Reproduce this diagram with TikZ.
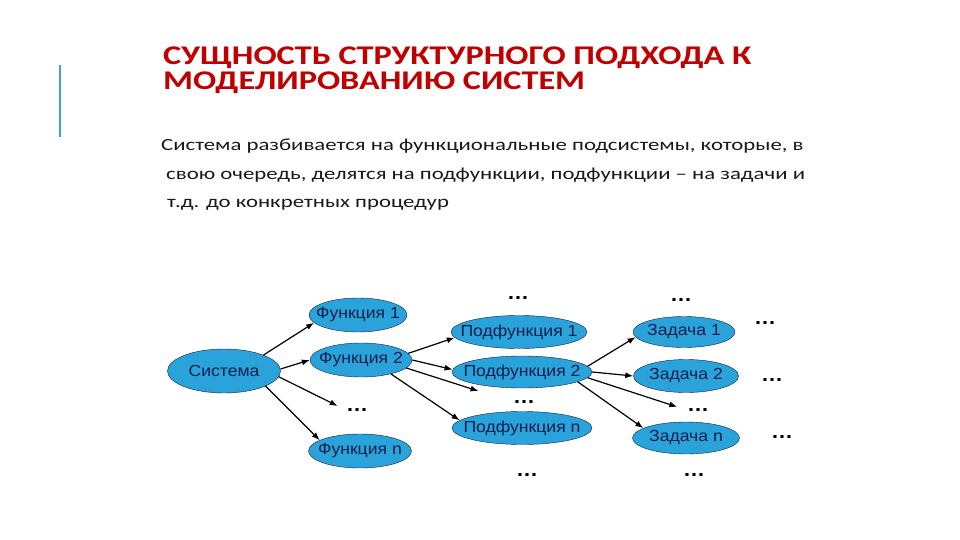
\documentclass[tikz,border=0pt]{standalone}
\usepackage{fontspec}
\setmainfont{Carlito}
\newfontfamily\headfont[FakeStretch=1.27]{Carlito}
\newfontfamily\bodyfont[FakeStretch=1.34]{Carlito}
\newfontfamily\arialfont[FakeStretch=1.1]{Liberation Sans}
\usepackage{tikz}
\usetikzlibrary{shapes.geometric,arrows.meta,positioning}
\definecolor{titlered}{HTML}{C00000}
\definecolor{barteal}{HTML}{3FA9B5}
\definecolor{blobfill}{HTML}{29A3DA}
\definecolor{blobnavy}{HTML}{0E1F4D}

\begin{document}
\begin{tikzpicture}[x=1pt, y=-1pt,
    title/.style={anchor=base west, inner sep=0pt, text=titlered,
        font=\headfont\bfseries\fontsize{27}{27}\selectfont},
    body/.style={anchor=base west, inner sep=0pt, text=black!90,
        font=\bodyfont\fontsize{17}{17}\selectfont},
    blob/.style={ellipse, draw=blobnavy, fill=blobfill, inner xsep=-20pt, inner ysep=0pt,
        text=blobnavy, font=\arialfont\fontsize{16}{16}\selectfont},
    dots/.style={inner sep=0pt, font=\arialfont\bfseries\fontsize{20}{20}\selectfont},
    >={Latex[length=8pt,width=6pt]}]
    \useasboundingbox (0,0) rectangle (960,540);

    % Heading
    \draw[barteal, line width=2pt] (60,65) -- (60,137);
    \node[title] (head1) at (163,65) {СУЩНОСТЬ СТРУКТУРНОГО ПОДХОДА К};
    \node[title] (head2) at (163,90) {МОДЕЛИРОВАНИЮ СИСТЕМ};

    % Text
    \node[body] (text1) at (161,151) {Система разбивается на функциональные подсистемы, которые, в};
    \node[body] (text2) at (166,179) {свою очередь, делятся на подфункции, подфункции – на задачи и};
    \node[body] (text3) at (167,207) {т.д. до конкретных процедур};

    % System and functions
    \node[blob, minimum width=113, minimum height=44] (sys) at (224,371) {Система};
    \node[blob, minimum width=98, minimum height=34] (f1) at (358,315) {Функция 1};
    \node[blob, minimum width=102, minimum height=34] (f2) at (361,360) {Функция 2};
    \node[dots] (fdots) at (357,410) {…};
    \node[blob, minimum width=103, minimum height=34] (fn) at (360,451) {Функция n};

    % Subfunctions
    \node[dots] (ptop) at (518,298) {…};
    \node[blob, minimum width=136, minimum height=33] (p1) at (519,332) {Подфункция 1};
    \node[blob, minimum width=140, minimum height=32] (p2) at (522,372) {Подфункция 2};
    \node[dots] (pdots) at (524,402) {…};
    \node[blob, minimum width=140, minimum height=33] (pn) at (522,428) {Подфункция n};
    \node[dots] (pbot) at (527,475) {…};

    % Tasks
    \node[dots] (ttop) at (681,300) {…};
    \node[blob, minimum width=102, minimum height=31] (t1) at (684,332) {Задача 1};
    \node[blob, minimum width=105, minimum height=33] (t2) at (686,376) {Задача 2};
    \node[dots] (tdots) at (698,410) {…};
    \node[blob, minimum width=107, minimum height=32] (tn) at (686,438) {Задача n};
    \node[dots] (tbot) at (694,475) {…};
    \node[dots] (r1) at (765,323) {…};
    \node[dots] (r2) at (772,380) {…};
    \node[dots] (r3) at (782,437) {…};

    % Arrows
    \begin{scope}[line width=1.2pt]
    \draw[->] (sys.22) -- (f1.190);
    \draw[->] (sys.2) -- (f2.west);
    \draw[->, shorten >=9pt] (sys.-6) -- (fdots.west);
    \draw[->] (sys.-20) -- (fn.165);

    \draw[->] (f2.8) -- (p1.185);
    \draw[->] (f2.0) -- (p2.178);
    \draw[->, shorten >=36pt] (f2.-10) -- (pdots.west);
    \draw[->] (f2.-25) -- (pn.173);

    \draw[->] (p2.5) -- (t1.186);
    \draw[->] (p2.0) -- (t2.west);
    \draw[->, shorten >=10pt] (p2.-5) -- (tdots.west);
    \draw[->] (p2.-10) -- (tn.167);
    \end{scope}
\end{tikzpicture}
\end{document}
